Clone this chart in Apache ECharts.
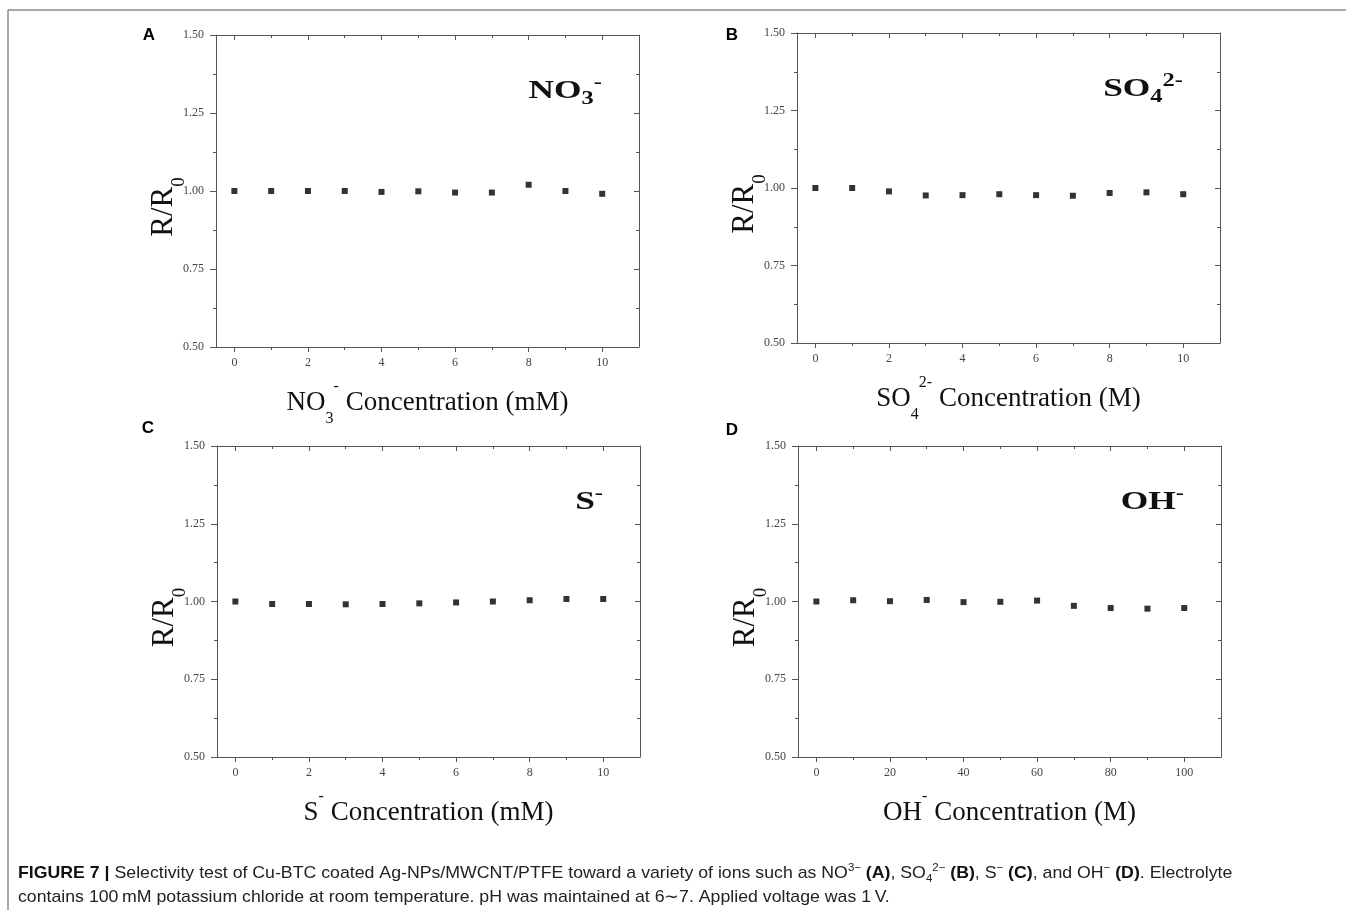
<!DOCTYPE html>
<html><head><meta charset="utf-8">
<script src="https://cdn.jsdelivr.net/npm/echarts@6/dist/echarts.min.js"></script>
<style>html,body{margin:0;padding:0;background:#fff}#c{width:1346px;height:910px}</style>
</head><body><div id="c"></div>
<script>
// ---- data ----
const concMM = [0, 1, 2, 3, 4, 5, 6, 7, 8, 9, 10];
const concOH = [0, 10, 20, 30, 40, 50, 60, 70, 80, 90, 100];
const rNO3 = [1.000, 1.000, 1.000, 1.000, 0.997, 0.999, 0.995, 0.995, 1.020, 1.000, 0.991];
const rSO4 = [1.000, 1.000, 0.989, 0.976, 0.977, 0.980, 0.977, 0.975, 0.984, 0.986, 0.980];
const rS   = [1.000, 0.992, 0.992, 0.991, 0.992, 0.994, 0.997, 1.000, 1.004, 1.008, 1.008];
const rOH  = [1.000, 1.004, 1.001, 1.005, 0.998, 0.999, 1.003, 0.986, 0.979, 0.977, 0.979];
const yTicks = [0.50, 0.75, 1.00, 1.25, 1.50];
const xMajorMM = [0, 2, 4, 6, 8, 10];
const xMinorMM = [1, 3, 5, 7, 9];
const xMajorOH = [0, 20, 40, 60, 80, 100];
const xMinorOH = [10, 30, 50, 70, 90];
const panelLetters = ['A', 'B', 'C', 'D'];
const ionLabels = ['NO{sub|3}{sup|-}', 'SO{sub|4}{sup|2-}', 'S{sup|-}', 'OH{sup|-}'];
const xTitles = ['NO{sub|3}{sup|-} Concentration (mM)', 'SO{sub|4}{sup|2-} Concentration (M)',
                 'S{sup|-} Concentration (mM)', 'OH{sup|-} Concentration (M)'];
const yTitle = 'R/R{sub|0}';
const captionLine1 = '{b|FIGURE 7 |} Selectivity test of Cu-BTC coated Ag-NPs/MWCNT/PTFE toward a variety of ions such as NO{sup|3\u2212} {b|(A)}, SO{sub|4}{sup|2\u2212} {b|(B)}, S{sup|\u2212} {b|(C)}, and OH{sup|\u2212} {b|(D)}. Electrolyte';
const captionLine2 = 'contains 100\u2009mM potassium chloride at room temperature. pH was maintained at 6\u223C7. Applied voltage was 1\u2009V.';

const panelsData = [
  { x: concMM, y: rNO3, major: xMajorMM, minor: xMinorMM },
  { x: concMM, y: rSO4, major: xMajorMM, minor: xMinorMM },
  { x: concMM, y: rS,   major: xMajorMM, minor: xMinorMM },
  { x: concOH, y: rOH,  major: xMajorOH, minor: xMinorOH }
];

// ---- layout ----
const layouts = [
  { left: 216, top: 35,  width: 423, height: 312, xMin: -0.5, xMax: 11,  letter: [149, 35] },
  { left: 797, top: 33,  width: 423, height: 310, xMin: -0.5, xMax: 11,  letter: [732, 35] },
  { left: 217, top: 446, width: 423, height: 311, xMin: -0.5, xMax: 11,  letter: [148, 428] },
  { left: 798, top: 446, width: 423, height: 311, xMin: -5,   xMax: 110, letter: [732, 430] }
];

const SERIF = "'Liberation Serif', 'Times New Roman', serif";
const SANS = "'Liberation Sans', Arial, sans-serif";
const AXIS_COLOR = '#555';
const lineStyle = { color: AXIS_COLOR, width: 1 };

function titleRich(size) {
  const s = Math.round(size * 0.6);
  return {
    sub: { fontFamily: SERIF, fontSize: s, lineHeight: 12, verticalAlign: 'bottom', color: '#111' },
    sup: { fontFamily: SERIF, fontSize: s, lineHeight: 28, verticalAlign: 'top', color: '#111' }
  };
}

const grids = [], xAxes = [], yAxes = [], series = [], graphics = [];

layouts.forEach((L, i) => {
  const P = panelsData[i];
  grids.push({ left: L.left, top: L.top, width: L.width, height: L.height, containLabel: false });
  const base = { type: 'value', gridIndex: i, min: L.xMin, max: L.xMax, splitLine: { show: false } };
  xAxes.push(Object.assign({}, base, {
    position: 'bottom',
    axisLine: { show: true, onZero: false, lineStyle },
    axisTick: { show: true, customValues: P.major, length: 5, lineStyle },
    axisLabel: { show: true, customValues: P.major, fontFamily: SERIF, fontSize: 12, color: '#444', margin: 10 },
    name: xTitles[i], nameLocation: 'middle', nameGap: 32, nameMoveOverlap: false,
    nameTextStyle: { fontFamily: SERIF, fontSize: 27, color: '#111', lineHeight: 48, rich: titleRich(27) }
  }));
  xAxes.push(Object.assign({}, base, {
    position: 'bottom',
    axisLine: { show: false, onZero: false },
    axisTick: { show: true, customValues: P.minor, length: 3, lineStyle },
    axisLabel: { show: false }
  }));
  xAxes.push(Object.assign({}, base, {
    position: 'top',
    axisLine: { show: true, onZero: false, lineStyle },
    axisTick: { show: true, inside: true, customValues: P.major, length: 5, lineStyle },
    axisLabel: { show: false }
  }));
  xAxes.push(Object.assign({}, base, {
    position: 'top',
    axisLine: { show: false, onZero: false },
    axisTick: { show: true, inside: true, customValues: P.minor, length: 3, lineStyle },
    axisLabel: { show: false }
  }));
  yAxes.push({
    type: 'value', gridIndex: i, min: yTicks[0], max: yTicks[yTicks.length - 1], interval: 0.25,
    position: 'left',
    splitLine: { show: false },
    axisLine: { show: true, onZero: false, lineStyle },
    axisTick: { show: true, length: 6, lineStyle },
    minorTick: { show: true, splitNumber: 2, length: 3, lineStyle },
    axisLabel: { fontFamily: SERIF, fontSize: 12, color: '#444', margin: 12, formatter: v => v.toFixed(2) },
    name: yTitle, nameLocation: 'middle', nameRotate: 90, nameGap: 27, nameMoveOverlap: false,
    nameTextStyle: { fontFamily: SERIF, fontSize: 31, color: '#111', lineHeight: 50, padding: [0, 32, 0, 0],
      rich: { sub: { fontFamily: SERIF, fontSize: 19, lineHeight: 12, verticalAlign: 'bottom', color: '#111' } } }
  });
  yAxes.push({
    type: 'value', gridIndex: i, min: yTicks[0], max: yTicks[yTicks.length - 1], interval: 0.25,
    position: 'right',
    splitLine: { show: false },
    axisLine: { show: true, onZero: false, lineStyle },
    axisTick: { show: true, inside: true, length: 5, lineStyle },
    minorTick: { show: true, splitNumber: 2, length: 3, lineStyle },
    axisLabel: { show: false }
  });
  series.push({
    type: 'scatter', xAxisIndex: i * 4, yAxisIndex: i * 2,
    data: P.x.map((v, k) => [v, P.y[k]]),
    symbol: 'rect', symbolSize: 6, itemStyle: { color: '#000' }, silent: true
  });
  graphics.push({
    type: 'text', x: L.letter[0], y: L.letter[1],
    style: { text: panelLetters[i], fontFamily: SANS, fontWeight: 'bold', fontSize: 17, fill: '#000', align: 'center', verticalAlign: 'middle' }
  });
  graphics.push({
    type: 'text', x: L.left + L.width - 37, y: L.top + 39, scaleX: 1.36,
    style: {
      text: ionLabels[i], fontFamily: SERIF, fontWeight: 'bold', fontSize: 26, lineHeight: 34, fill: '#111',
      align: 'right', verticalAlign: 'top',
      rich: {
        sub: { fontFamily: SERIF, fontWeight: 'bold', fontSize: 18, lineHeight: 12, verticalAlign: 'bottom', fill: '#111' },
        sup: { fontFamily: SERIF, fontWeight: 'bold', fontSize: 18, lineHeight: 14, verticalAlign: 'top', fill: '#111' }
      }
    }
  });
});

// frame
graphics.push({ type: 'line', shape: { x1: 8, y1: 10, x2: 1346, y2: 10 }, style: { stroke: '#8a8a8a', lineWidth: 1.5 } });
graphics.push({ type: 'line', shape: { x1: 8, y1: 10, x2: 8, y2: 910 }, style: { stroke: '#8a8a8a', lineWidth: 1.5 } });
// caption
const capRich = {
  b: { fontFamily: SANS, fontWeight: 'bold', fontSize: 17, fill: '#111' },
  sup: { fontFamily: SANS, fontSize: 11, lineHeight: 10, verticalAlign: 'top', fill: '#222' },
  sub: { fontFamily: SANS, fontSize: 11, lineHeight: 10, verticalAlign: 'bottom', fill: '#222' }
};
graphics.push({ type: 'text', x: 18, y: 873, scaleX: 1.042, style: { text: captionLine1, fontFamily: SANS, fontSize: 17, lineHeight: 22, fill: '#222', verticalAlign: 'middle', rich: capRich } });
graphics.push({ type: 'text', x: 18, y: 897, scaleX: 1.042, style: { text: captionLine2, fontFamily: SANS, fontSize: 17, lineHeight: 22, fill: '#222', verticalAlign: 'middle' } });

const chart = echarts.init(document.getElementById('c'), null, { renderer: 'canvas' });
chart.setOption({
  backgroundColor: '#fff',
  animation: false,
  grid: grids, xAxis: xAxes, yAxis: yAxes, series: series, graphic: graphics
});
</script></body></html>
